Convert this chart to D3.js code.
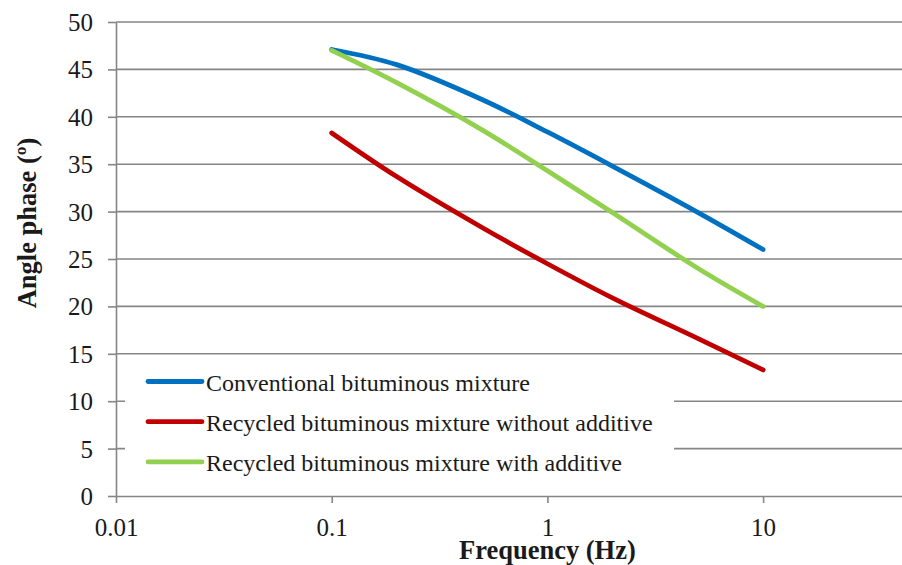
<!DOCTYPE html>
<html>
<head>
<meta charset="utf-8">
<script src="https://cdn.jsdelivr.net/npm/d3@7"></script>
<style>
  html, body { margin: 0; padding: 0; background: #fff; }
  svg { display: block; }
  svg text { font-family: "Liberation Serif", "Tinos", "Times New Roman", "DejaVu Serif", serif; }
</style>
</head>
<body>
<svg id="chart" width="902" height="565"></svg>
<script>
// Frequency sweep (Hz) and phase angle (degrees) for each mixture
const frequencies = [0.1, 0.2, 0.5, 1, 2, 5, 10];
const conventional = [47.1, 45.5, 41.8, 38.4, 34.8, 29.9, 26.0];
const recycledNoAdditive = [38.3, 33.7, 28.3, 24.5, 20.9, 16.6, 13.3];
const recycledAdditive = [47.0, 43.6, 38.6, 34.3, 29.9, 24.0, 20.0];

const seriesNames = [
  "Conventional bituminous mixture",
  "Recycled bituminous mixture without additive",
  "Recycled bituminous mixture with additive"
];
const seriesColors = ["#0070C0", "#C00000", "#92D050"];
const seriesValues = [conventional, recycledNoAdditive, recycledAdditive];

const xTicks = [0.01, 0.1, 1, 10];
const yTicks = [0, 5, 10, 15, 20, 25, 30, 35, 40, 45, 50];

const svg = d3.select("#chart");
const plotLeft = 116, plotTop = 22, plotBottom = 496;

// log axis runs 0.01–100; the last decade is cut off by the right edge
const x = d3.scaleLog().domain([0.01, 100]).range([plotLeft, plotLeft + 4 * 215.7]);
const y = d3.scaleLinear().domain([0, 50]).range([plotBottom, plotTop]);

const gridColor = "#868686";
const textColor = "#1a1a1a";

// horizontal gridlines
svg.append("g")
  .selectAll("line")
  .data(yTicks.filter(d => d > 0))
  .join("line")
  .attr("x1", plotLeft).attr("x2", x(100))
  .attr("y1", d => y(d)).attr("y2", d => y(d))
  .attr("stroke", gridColor).attr("stroke-width", 1.6);

// y axis
const yAxis = svg.append("g")
  .attr("transform", `translate(${plotLeft},0)`)
  .call(d3.axisLeft(y).tickValues(yTicks).tickSize(8).tickSizeOuter(0).tickPadding(15));
yAxis.attr("font-family", null);
yAxis.select(".domain").attr("stroke", gridColor).attr("stroke-width", 1.6);
yAxis.selectAll(".tick line").attr("stroke", gridColor).attr("stroke-width", 1.6);
yAxis.selectAll(".tick text")
  .attr("font-size", 25).attr("fill", textColor)
  .attr("dy", "0.34em");

// x axis
const xAxis = svg.append("g")
  .attr("transform", `translate(0,${plotBottom})`)
  .call(d3.axisBottom(x).tickValues(xTicks).tickFormat(d => String(d)).tickSize(7).tickSizeOuter(0));
xAxis.attr("font-family", null);
xAxis.select(".domain").attr("stroke", gridColor).attr("stroke-width", 1.6);
xAxis.selectAll(".tick line").attr("stroke", gridColor).attr("stroke-width", 1.6);
xAxis.selectAll(".tick text")
  .attr("font-size", 25).attr("fill", textColor)
  .attr("y", 40).attr("dy", 0);

// series curves
const line = d3.line()
  .x((d, i) => x(frequencies[i]))
  .y(d => y(d))
  .curve(d3.curveCatmullRom.alpha(0.5));

svg.append("g")
  .selectAll("path")
  .data(seriesValues)
  .join("path")
  .attr("d", d => line(d))
  .attr("fill", "none")
  .attr("stroke", (d, i) => seriesColors[i])
  .attr("stroke-width", 4.8)
  .attr("stroke-linecap", "round")
  .attr("stroke-linejoin", "round");

// legend, on a white panel over the gridlines
const legend = svg.append("g");
legend.append("rect")
  .attr("x", 125).attr("y", 362).attr("width", 549).attr("height", 120)
  .attr("fill", "#fff");
const entries = legend.selectAll("g.entry")
  .data(seriesNames)
  .join("g")
  .attr("class", "entry")
  .attr("transform", (d, i) => `translate(0,${381.5 + i * 40.2})`);
entries.append("line")
  .attr("x1", 148).attr("x2", 202)
  .attr("stroke", (d, i) => seriesColors[i])
  .attr("stroke-width", 4.8)
  .attr("stroke-linecap", "round");
entries.append("text")
  .attr("x", 206).attr("y", 9)
  .attr("font-size", 24).attr("fill", textColor)
  .text(d => d);

// axis titles
svg.append("text")
  .attr("x", x(1)).attr("y", 559)
  .attr("text-anchor", "middle")
  .attr("font-size", 26.5).attr("font-weight", "bold").attr("fill", textColor)
  .text("Frequency (Hz)");

svg.append("text")
  .attr("transform", "translate(36,223) rotate(-90)")
  .attr("text-anchor", "middle")
  .attr("font-size", 26.5).attr("font-weight", "bold").attr("fill", textColor)
  .text("Angle phase (º)");
</script>
</body>
</html>
